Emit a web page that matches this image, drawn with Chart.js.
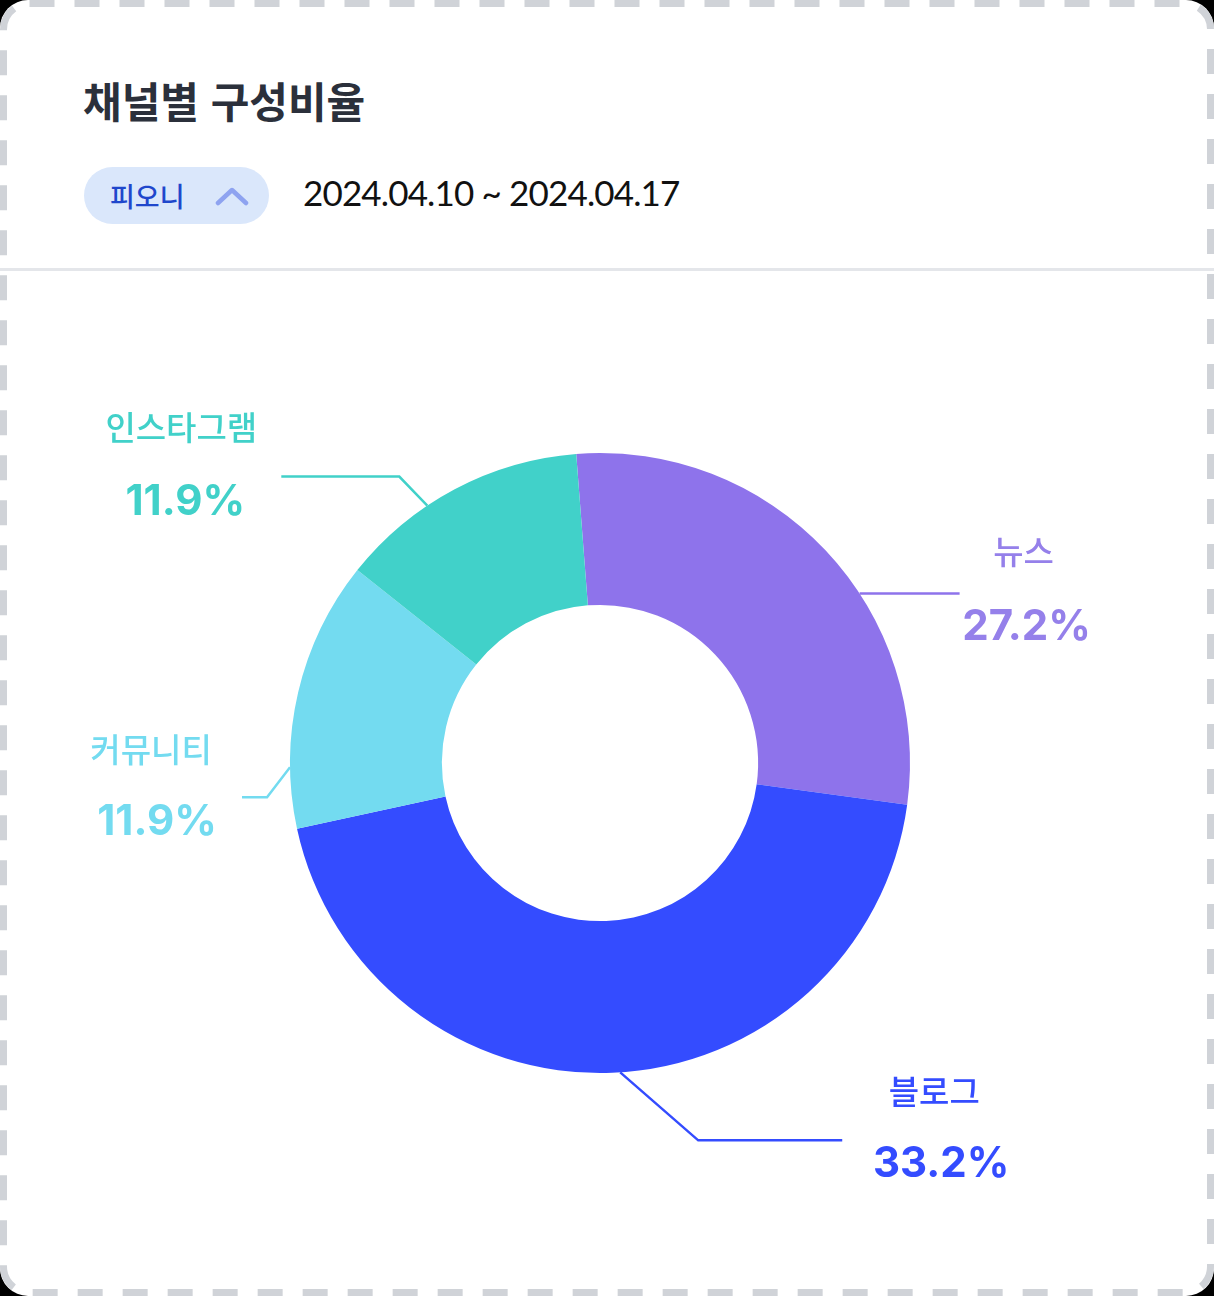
<!DOCTYPE html>
<html lang="ko">
<head>
<meta charset="utf-8">
<script src="https://cdn.jsdelivr.net/npm/chart.js@4.4.1/dist/chart.umd.min.js"></script>
<style>
  html, body { margin: 0; padding: 0; background: #000; }
  body { width: 1214px; height: 1296px; position: relative; overflow: hidden; }
  #card { position: absolute; left: 0; top: 0; width: 1214px; height: 1296px; background: #fff; border-radius: 28px; overflow: hidden; }
  #border { position: absolute; left: 0; top: 0; pointer-events: none; }
  #title { position: absolute; left: 83px; top: 70px; font-family: "Noto Sans CJK KR", sans-serif; font-weight: 700; font-size: 42px; color: #2b303b; letter-spacing: 0px; line-height: 60px; }
  #pill { position: absolute; left: 84px; top: 167px; width: 185px; height: 57px; border-radius: 29px; background: #dae7fb; }
  #pillText { position: absolute; left: 26px; top: 0; line-height: 57px; font-family: "Noto Sans CJK KR", sans-serif; font-weight: 500; font-size: 27px; color: #1f47cc; }
  #chev { position: absolute; left: 131px; top: 18px; }
  #date { position: absolute; left: 303px; top: 166px; font-family: Lato, sans-serif; font-size: 35px; color: #111; line-height: 52px; letter-spacing: -0.85px; }
  #divider { position: absolute; left: 0; top: 268px; width: 1214px; height: 3px; background: #e4e6ea; }
  #chartWrap { position: absolute; left: 0; top: 263px; width: 1200px; height: 1000px; }
</style>
</head>
<body>
<div id="card">
  <div id="title">채널별 구성비율</div>
  <div id="pill">
    <div id="pillText">피오니</div>
    <svg id="chev" width="36" height="22" viewBox="0 0 36 22"><polyline points="3,18 17,5 31,18" fill="none" stroke="#8ea3f0" stroke-width="4.5" stroke-linecap="round" stroke-linejoin="round"/></svg>
  </div>
  <div id="date">2024.04.10 ~ 2024.04.17</div>
  <div id="divider"></div>
  <div id="chartWrap"><canvas id="c" width="1200" height="1000"></canvas></div>
</div>
<svg id="border" width="1214" height="1296"><rect x="3.5" y="3.5" width="1207" height="1289" rx="26" ry="26" fill="none" stroke="#d0d3d8" stroke-width="7" stroke-dasharray="25 20"/></svg>
<script>
// ---- data ----
const categories = ["뉴스", "블로그", "커뮤니티", "인스타그램"];
const labelPercents = [27.2, 33.2, 11.9, 11.9];      // numbers printed next to each slice
const sliceShares = [28.4, 44.5, 14.1, 13.1];         // slice sizes as drawn in the picture
const sliceColors = ["#8e73eb", "#344cff", "#73dbf0", "#41d1c9"];
const labelColors = ["#9580ea", "#344cff", "#73dbf0", "#41d1c9"];

// leader-line / label styling (offsets relative to slice geometry)
const leaderAngleOffsetDeg = [10.2, -1.5, -13.9, -5.9];
const leaderElbow = [[0, 0], [78, 68], [-23, 30], [-28, -29]];
const leaderRun = [100, 144, -25, -118];
const nameOffset = [[64, -42], [92, -49], [-91, -48], [-100, -49]];
const pctOffset = [[67, 46], [99, 37], [-85, 38], [-96, 38]];

const leaderPlugin = {
  id: 'leaders',
  afterDatasetsDraw(chart) {
    const ctx = chart.ctx;
    const meta = chart.getDatasetMeta(0);
    meta.data.forEach((arc, i) => {
      const p = arc.getProps(['x', 'y', 'startAngle', 'endAngle', 'outerRadius'], true);
      const a = (p.startAngle + p.endAngle) / 2 + leaderAngleOffsetDeg[i] * Math.PI / 180;
      const ax = p.x + p.outerRadius * Math.cos(a);
      const ay = p.y + p.outerRadius * Math.sin(a);
      const ex = ax + leaderElbow[i][0], ey = ay + leaderElbow[i][1];
      const fx = ex + leaderRun[i], fy = ey;
      ctx.save();
      ctx.strokeStyle = sliceColors[i];
      ctx.lineWidth = 2.5;
      ctx.beginPath();
      ctx.moveTo(ax, ay);
      ctx.lineTo(ex, ey);
      ctx.lineTo(fx, fy);
      ctx.stroke();
      ctx.fillStyle = labelColors[i];
      ctx.textAlign = 'center';
      ctx.textBaseline = 'middle';
      ctx.font = '500 33px "Noto Sans CJK KR", sans-serif';
      ctx.fillText(categories[i], fx + nameOffset[i][0], fy + nameOffset[i][1]);
      ctx.textBaseline = 'alphabetic';
      ctx.font = '700 42px Inter, "Noto Sans", sans-serif';
      ctx.fillText(labelPercents[i].toFixed(1) + '%', fx + pctOffset[i][0], fy + pctOffset[i][1]);
      ctx.restore();
    });
  }
};

new Chart(document.getElementById('c'), {
  type: 'doughnut',
  data: {
    labels: categories,
    datasets: [{
      data: sliceShares,
      backgroundColor: sliceColors,
      borderWidth: 0,
      hoverOffset: 0
    }]
  },
  options: {
    responsive: false,
    animation: false,
    rotation: -4.4,
    cutout: '51%',
    layout: { padding: 190 },
    plugins: { legend: { display: false }, tooltip: { enabled: false } },
    events: []
  },
  plugins: [leaderPlugin]
});
</script>
</body>
</html>
